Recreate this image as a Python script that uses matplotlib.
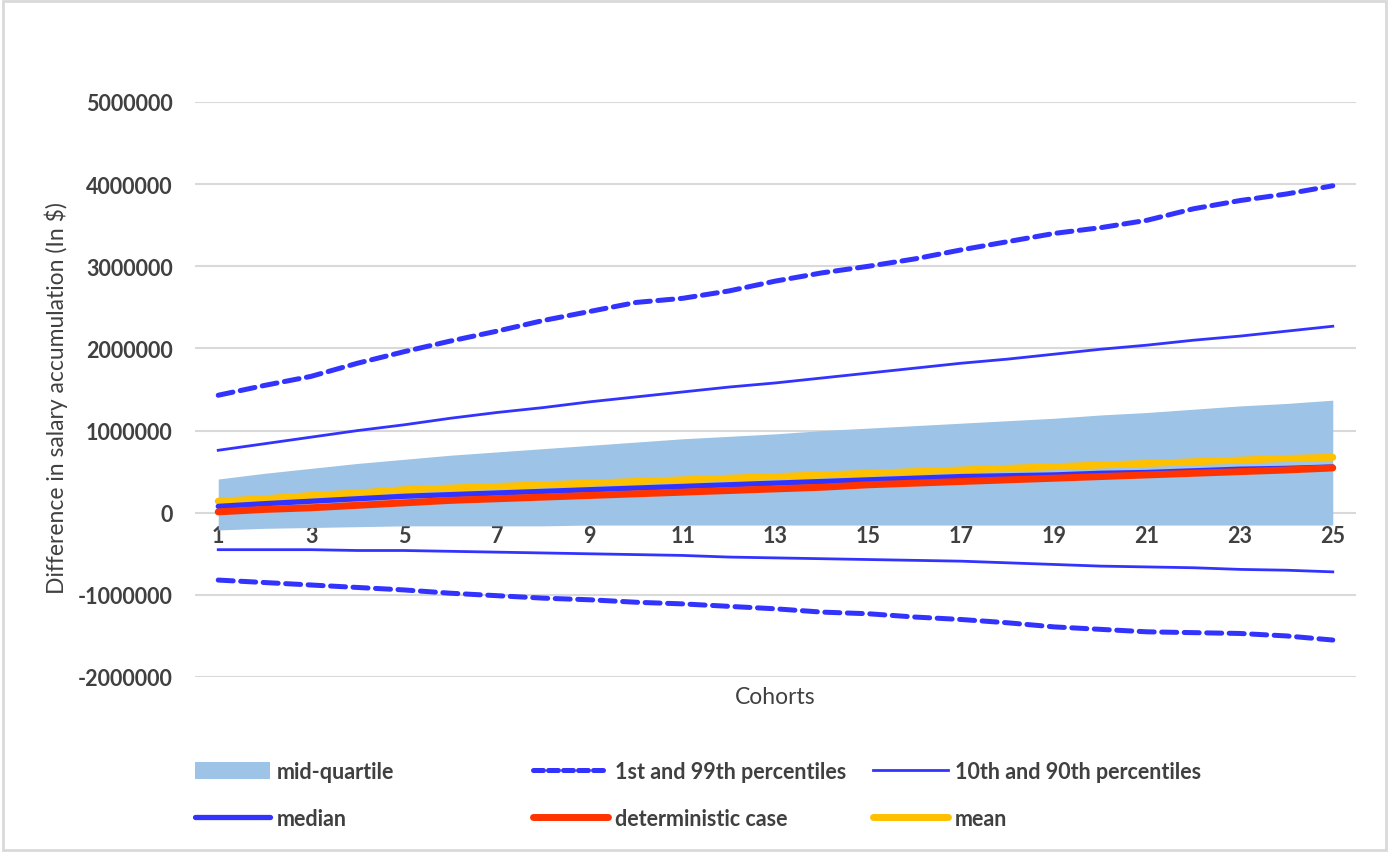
import matplotlib
matplotlib.use("Agg")
import matplotlib.pyplot as plt
from matplotlib.lines import Line2D
from matplotlib.patches import Patch, Rectangle

plt.rcParams['font.family'] = ['Lato', 'DejaVu Sans']

cohorts = list(range(1, 26))
tick_cohorts = list(range(1, 26, 2))

q25 = [-0.21, -0.19, -0.18, -0.17, -0.16, -0.16, -0.16, -0.16, -0.15, -0.15, -0.15, -0.15, -0.15,
       -0.15, -0.15, -0.15, -0.15, -0.15, -0.15, -0.15, -0.15, -0.15, -0.15, -0.15, -0.15]
q75 = [0.41, 0.48, 0.54, 0.60, 0.65, 0.70, 0.74, 0.78, 0.82, 0.86, 0.90, 0.93, 0.96,
       1.00, 1.03, 1.06, 1.09, 1.12, 1.15, 1.19, 1.22, 1.26, 1.30, 1.33, 1.37]
p01 = [-0.82, -0.85, -0.88, -0.91, -0.94, -0.98, -1.01, -1.04, -1.06, -1.09, -1.11, -1.14, -1.17,
       -1.21, -1.23, -1.27, -1.30, -1.34, -1.39, -1.42, -1.45, -1.46, -1.47, -1.50, -1.55]
p99 = [1.43, 1.55, 1.66, 1.82, 1.96, 2.09, 2.21, 2.34, 2.45, 2.56, 2.61, 2.70, 2.82,
       2.92, 3.00, 3.09, 3.20, 3.30, 3.40, 3.47, 3.56, 3.70, 3.80, 3.88, 3.98]
p10 = [-0.45, -0.45, -0.45, -0.46, -0.46, -0.47, -0.48, -0.49, -0.50, -0.51, -0.52, -0.54, -0.55,
       -0.56, -0.57, -0.58, -0.59, -0.61, -0.63, -0.65, -0.66, -0.67, -0.69, -0.70, -0.72]
p90 = [0.76, 0.84, 0.92, 1.00, 1.07, 1.15, 1.22, 1.28, 1.35, 1.41, 1.47, 1.53, 1.58,
       1.64, 1.70, 1.76, 1.82, 1.87, 1.93, 1.99, 2.04, 2.10, 2.15, 2.21, 2.27]
median = [0.077, 0.11, 0.14, 0.17, 0.20, 0.22, 0.24, 0.26, 0.28, 0.30, 0.32, 0.34, 0.36,
          0.38, 0.40, 0.42, 0.44, 0.45, 0.46, 0.48, 0.49, 0.51, 0.53, 0.54, 0.557]
deterministic = [0.01, 0.04, 0.06, 0.09, 0.12, 0.15, 0.17, 0.19, 0.21, 0.23, 0.25, 0.27, 0.29,
                 0.31, 0.34, 0.36, 0.38, 0.40, 0.42, 0.44, 0.46, 0.48, 0.50, 0.52, 0.545]
mean = [0.14, 0.17, 0.21, 0.24, 0.28, 0.30, 0.32, 0.34, 0.36, 0.38, 0.40, 0.42, 0.44,
        0.46, 0.48, 0.50, 0.52, 0.54, 0.56, 0.58, 0.60, 0.62, 0.64, 0.66, 0.675]

SCALE = 1e6
def sc(v):
    return [x * SCALE for x in v]

y_ticks = [-2000000, -1000000, 0, 1000000, 2000000, 3000000, 4000000, 5000000]

BAND = '#9DC3E6'
BLUE = '#3333FF'
RED = '#FF3300'
YELLOW = '#FFC000'
GRID = '#D9D9D9'
TXT = '#404040'

fig = plt.figure(figsize=(13.89, 8.53), dpi=100)
ax = fig.add_axes([195 / 1389, 1 - 678 / 853, (1356 - 195) / 1389, (678 - 103) / 853])

ax.fill_between(cohorts, sc(q25), sc(q75), color=BAND, lw=0, zorder=2)
ax.plot(cohorts, sc(p99), color=BLUE, lw=3.6, ls=(0, (3, 1.5)), zorder=3, dash_capstyle='round')
ax.plot(cohorts, sc(p01), color=BLUE, lw=3.6, ls=(0, (3, 1.5)), zorder=3, dash_capstyle='round')
ax.plot(cohorts, sc(p90), color=BLUE, lw=2.0, zorder=3)
ax.plot(cohorts, sc(p10), color=BLUE, lw=2.0, zorder=3)
ax.plot(cohorts, sc(mean), color=YELLOW, lw=5.0, zorder=4, solid_capstyle='round')
ax.plot(cohorts, sc(median), color=BLUE, lw=3.8, zorder=5, solid_capstyle='round')
ax.plot(cohorts, sc(deterministic), color=RED, lw=5.0, zorder=6, solid_capstyle='round')

ax.set_xlim(0.5, 25.5)
ax.set_ylim(-2000000, 5000000)
ax.set_yticks(y_ticks)
ax.set_yticklabels([str(t) for t in y_ticks])
ax.set_xticks(tick_cohorts)
ax.set_xticklabels([str(c) for c in tick_cohorts])
ax.grid(axis='y', color=GRID, lw=1.5, zorder=1)
ax.set_axisbelow(True)
for s in ['top', 'right', 'left']:
    ax.spines[s].set_visible(False)
ax.spines['bottom'].set_position(('data', 0))
ax.spines['bottom'].set_visible(False)
ax.tick_params(axis='y', length=0, pad=16, labelsize=15.5, labelcolor=TXT)
ax.tick_params(axis='x', length=0, pad=9, labelsize=15.5, labelcolor=TXT)
for lab in ax.get_yticklabels() + ax.get_xticklabels():
    lab.set_fontweight('bold')

fig.text(56 / 1389, 1 - 398 / 853, 'Difference in salary accumulation (In $)', rotation=90,
         ha='center', va='center', fontsize=16.5, color=TXT)
fig.text(775 / 1389, 1 - 698 / 853, 'Cohorts', ha='center', va='center', fontsize=16.5, color=TXT)

# legend in three columns
cols = [
    ([Patch(facecolor=BAND, edgecolor='none'), Line2D([], [], color=BLUE, lw=3.8, solid_capstyle='round')],
     ['mid-quartile', 'median'], 195),
    ([Line2D([], [], color=BLUE, lw=3.6, ls=(0, (2, 1)), dash_capstyle='round'),
      Line2D([], [], color=RED, lw=5.0, solid_capstyle='round')],
     ['1st and 99th percentiles', 'deterministic case'], 533),
    ([Line2D([], [], color=BLUE, lw=2.0), Line2D([], [], color=YELLOW, lw=5.0, solid_capstyle='round')],
     ['10th and 90th percentiles', 'mean'], 873),
]
for handles, labels, x0 in cols:
    leg = fig.legend(handles, labels, loc='upper left', bbox_to_anchor=(x0 / 1389, 1 - 762 / 853),
                     frameon=False, fontsize=15.5, handlelength=3.5, handleheight=0.8,
                     handletextpad=0.3, labelspacing=1.2, borderpad=0, borderaxespad=0)
    for t in leg.get_texts():
        t.set_color(TXT)
        t.set_fontweight('bold')

fig.add_artist(Rectangle((3 / 1389, 1 - 851 / 853), (1386 - 3) / 1389, (851 - 2) / 853,
                         transform=fig.transFigure, fill=False, edgecolor=GRID, lw=2))

fig.savefig('out.png', dpi=100)
